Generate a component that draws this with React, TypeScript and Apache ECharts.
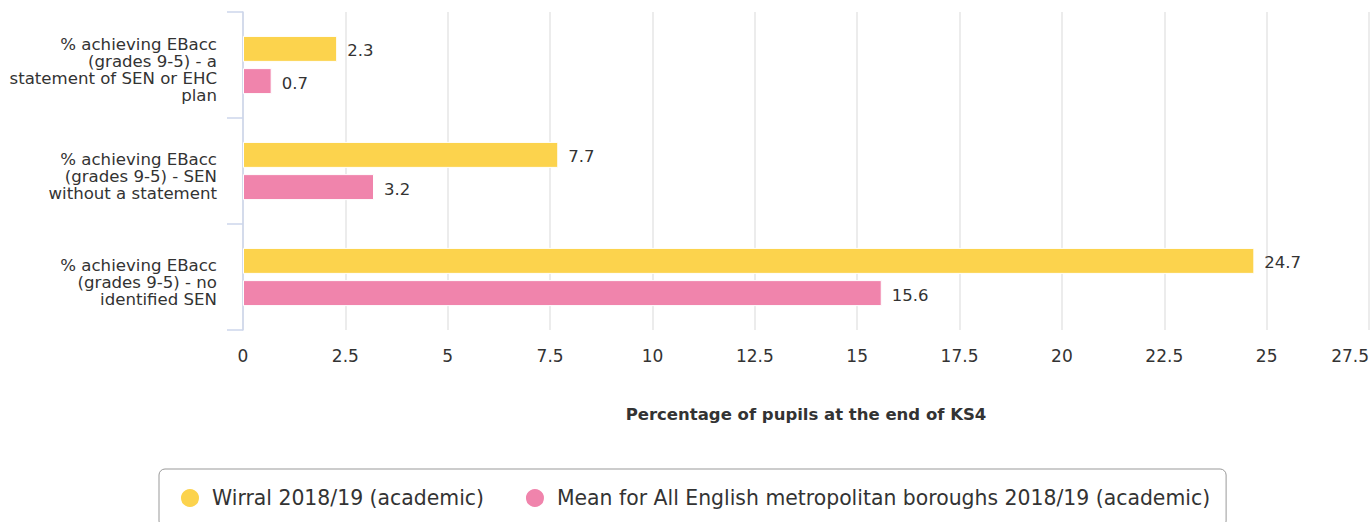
import React, { useEffect, useRef } from "react";
import * as echarts from "echarts";

const categories = [
  "% achieving EBacc\n(grades 9-5) - a\nstatement of SEN or EHC\nplan",
  "% achieving EBacc\n(grades 9-5) - SEN\nwithout a statement",
  "% achieving EBacc\n(grades 9-5) - no\nidentified SEN",
];
const wirralName = "Wirral 2018/19 (academic)";
const meanName = "Mean for All English metropolitan boroughs 2018/19 (academic)";
const wirralValues = [2.3, 7.7, 24.7];
const meanValues = [0.7, 3.2, 15.6];
const axisTitle = "Percentage of pupils at the end of KS4";

const FONT = "DejaVu Sans";
const YELLOW = "#fcd34d";
const PINK = "#f084ac";

export default function App() {
  const ref = useRef<HTMLDivElement>(null);
  useEffect(() => {
    document.body.style.margin = "0";
    const chart = echarts.init(ref.current!, null, { renderer: "svg" });
    const labelStyle = {
      show: true,
      position: "right",
      distance: 10,
      offset: [0, 2],
      color: "#333",
      fontSize: 16.5,
      fontFamily: FONT,
    };
    chart.setOption({
      animation: false,
      textStyle: { fontFamily: FONT },
      grid: { left: 243, right: -1, top: 12, bottom: 192, containLabel: false },
      legend: {
        left: 159,
        top: 469,
        padding: [18, 16, 18, 20],
        itemWidth: 20,
        itemHeight: 20,
        itemGap: 40,
        icon: "circle",
        borderColor: "#999",
        borderWidth: 1,
        borderRadius: 6,
        textStyle: { fontSize: 20.4, color: "#333", fontFamily: FONT, padding: [0, 0, 0, 7] },
        data: [wirralName, meanName],
      },
      xAxis: {
        type: "value",
        min: 0,
        max: 27.5,
        interval: 2.5,
        name: axisTitle,
        nameLocation: "middle",
        nameGap: 76,
        nameTextStyle: { fontSize: 16.5, fontWeight: "bold", color: "#333", fontFamily: FONT },
        axisLine: { show: false },
        axisTick: { show: false },
        splitLine: { show: true, lineStyle: { color: "#e6e6e6", width: 1.5 } },
        axisLabel: {
          fontSize: 17,
          color: "#333",
          margin: 17,
          fontFamily: FONT,
          alignMaxLabel: "right",
        },
      },
      yAxis: {
        type: "category",
        inverse: true,
        data: categories,
        axisLine: { show: true, lineStyle: { color: "#ccd6eb", width: 1.5 } },
        axisTick: { show: true, length: 16, lineStyle: { color: "#ccd6eb", width: 1.5 } },
        axisLabel: {
          fontSize: 16.6,
          lineHeight: 17,
          color: "#333",
          margin: 26,
          align: "right",
          fontFamily: FONT,
          formatter: (v: string) => "{s| }\n" + v,
          rich: { s: { lineHeight: 10, fontSize: 4 } },
        },
      },
      series: [
        {
          name: wirralName,
          type: "bar",
          data: wirralValues,
          barWidth: 26,
          barGap: "24%",
          itemStyle: { color: YELLOW, borderColor: "#fff", borderWidth: 1 },
          label: labelStyle,
        },
        {
          name: meanName,
          type: "bar",
          data: meanValues,
          barWidth: 26,
          itemStyle: { color: PINK, borderColor: "#fff", borderWidth: 1 },
          label: labelStyle,
        },
      ],
    });
    return () => chart.dispose();
  }, []);
  return <div ref={ref} style={{ width: 1372, height: 522 }} />;
}
